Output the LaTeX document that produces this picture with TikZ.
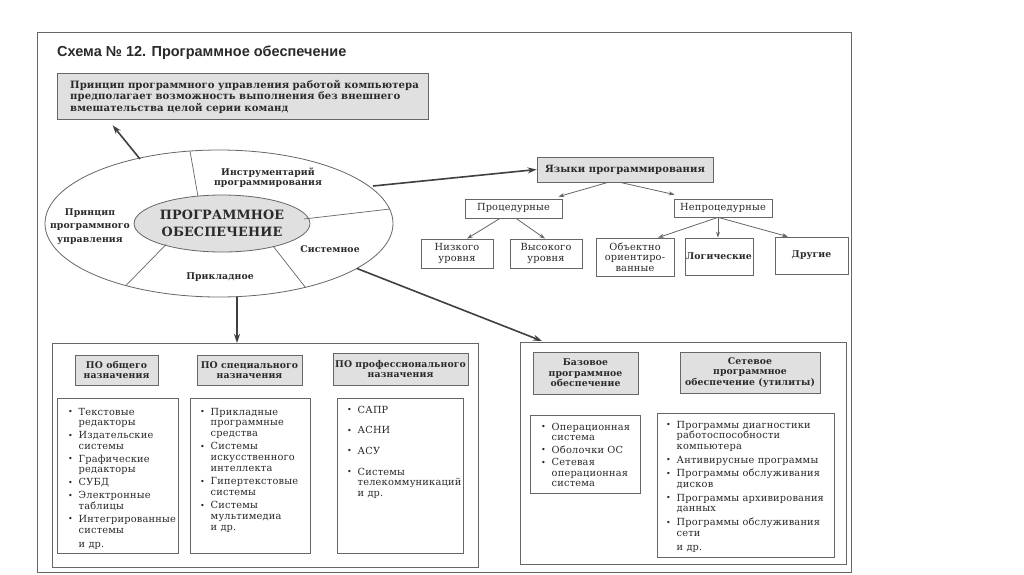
\documentclass[tikz,border=0pt]{standalone}
\usepackage{fontspec}
\setmainfont{DejaVu Serif}[LetterSpace=2]
\newfontfamily\bfam{DejaVu Serif}[LetterSpace=1]
\newfontfamily\titlefont{Liberation Sans}
\usetikzlibrary{arrows.meta,shapes.geometric,calc}
\definecolor{ink}{HTML}{2A2A2A}
\definecolor{rule}{HTML}{666666}
\definecolor{shade}{HTML}{E0E0E0}
\newcommand\bodyfont{\fontsize{9.8}{10.7}\selectfont}
\newcommand\boldfont{\bfam\bfseries\fontsize{9.3}{10.6}\selectfont}
\newcommand\itm[1]{\hangindent=10.5pt\hangafter=1\noindent\makebox[10.5pt][l]{\raisebox{0.1ex}{\fontsize{8}{8}\selectfont •}}#1\par}
\newcommand\etcline[1]{\noindent\hspace*{10.5pt}#1\par}
\begin{document}
\begin{tikzpicture}[x=1pt,y=-1pt,
  plainbox/.style={draw=rule, line width=0.7pt, inner sep=0pt, align=center, text=ink, font=\bodyfont},
  gbox/.style={plainbox, fill=shade, font=\boldfont},
  lst/.style={anchor=base west, inner sep=0pt, text width=190pt, text=ink, font=\bodyfont},
  bigarrow/.style={draw=black!75, line width=1.6pt, -{Stealth[length=9pt,width=6pt]}},
  smallarrow/.style={draw=black!60, line width=0.8pt, -{Stealth[length=6pt,width=4pt]}},
  lbl/.style={text=ink, font=\boldfont, align=center, inner sep=0pt}
]
\fill[white] (0,0) rectangle (1024,574);
\useasboundingbox (0,0) rectangle (1024,574);
\draw[rule, line width=0.9pt] (37,32) rectangle (851,572);

\node[anchor=base west, inner sep=0pt, text=ink, font=\titlefont\bfseries\fontsize{14.5}{16}\selectfont] (title) at (57,56) {Схема № 12. Программное обеспечение};

% top principle box
\node[gbox, minimum width=371pt, minimum height=46pt] (princ) at (242.5,96) {};
\node[lst, text width=360pt, font=\bfam\bfseries\fontsize{10.1}{11.6}\selectfont] (princtext) at (70,88) {Принцип программного управления работой компьютера\newline предполагает возможность выполнения без внешнего\newline вмешательства целой серии команд};

% ellipse
\node[draw=rule, line width=0.8pt, ellipse, minimum width=348pt, minimum height=147pt, inner sep=0pt] (ell) at (219,223.5) {};
\node[draw=rule, line width=0.8pt, fill=shade, ellipse, minimum width=165pt, minimum height=57pt, inner sep=0pt, align=center, text=ink, font=\bfam\bfseries\fontsize{12.8}{16.5}\selectfont] (core) at (222,223.5) {ПРОГРАММНОЕ\\ОБЕСПЕЧЕНИЕ};
\draw[rule, line width=0.7pt] (190,151) -- (198,196.5);
\draw[rule, line width=0.7pt] (304,219) -- (390,209);
\draw[rule, line width=0.7pt] (273,246) -- (305.5,287.5);
\draw[rule, line width=0.7pt] (166,244.5) -- (126,285.5);
\node[lbl] (instr) at (268,177.5) {Инструментарий\\программирования};
\node[lbl, font=\bfam\bfseries\fontsize{9.3}{13.5}\selectfont] (prin) at (90,226.5) {Принцип\\программного\\управления};
\node[lbl] (sys) at (330,249) {Системное};
\node[lbl] (appl) at (220,277) {Прикладное};

% languages tree
\node[gbox, minimum width=176pt, minimum height=25pt, font=\bfam\bfseries\fontsize{10}{12}\selectfont] (lang) at (625,169.5) {Языки программирования};
\node[plainbox, minimum width=97pt, minimum height=19pt] (proc) at (513.5,208.5) {Процедурные};
\node[plainbox, minimum width=98pt, minimum height=18pt] (nproc) at (723,208) {Непроцедурные};
\node[plainbox, minimum width=72pt, minimum height=29pt] (low) at (457,253.5) {Низкого\\уровня};
\node[plainbox, minimum width=72pt, minimum height=29pt] (high) at (546,253.5) {Высокого\\уровня};
\node[plainbox, minimum width=78pt, minimum height=38pt] (oop) at (635,257) {Объектно\\ориентиро-\\ванные};
\node[plainbox, minimum width=68pt, minimum height=37pt, font=\boldfont] (logic) at (719,256.5) {Логические};
\node[plainbox, minimum width=73pt, minimum height=37pt, font=\boldfont] (other) at (811.5,255.5) {Другие};

\draw[smallarrow] ($(lang.south)+(-17,0)$) -- ($(proc.north east)+(-4,-2)$);
\draw[smallarrow] ($(lang.south)+(-5,0)$) -- ($(nproc.north west)+(1,-4)$);
\draw[smallarrow] ($(proc.south)+(-13.5,0)$) -- ($(low.north)+(10,0)$);
\draw[smallarrow] ($(proc.south)+(2.5,0)$) -- ($(high.north)+(-1,0)$);
\draw[smallarrow] ($(nproc.south)+(-5,0)$) -- ($(oop.north)+(23,0)$);
\draw[smallarrow] ($(nproc.south)+(-5,0)$) -- ($(logic.north)+(-1,0)$);
\draw[smallarrow] ($(nproc.south)+(-5,0)$) -- ($(other.north)+(-23.5,0)$);

% group boxes
\node[plainbox, anchor=north west, minimum width=426pt, minimum height=224pt] (lg) at (52,343) {};
\node[plainbox, anchor=north west, minimum width=326pt, minimum height=222pt] (rg) at (520,342) {};

% big arrows
\draw[bigarrow] ($(ell.center)+(-79,-64.5)$) -- ($(princ.south west)+(56,6)$);
\draw[bigarrow] ($(ell.center)+(154,-37.5)$) -- (lang.west);
\draw[bigarrow] ($(ell.center)+(138,45)$) -- ($(rg.north west)+(22,-1)$);
\draw[bigarrow] ($(ell.center)+(18,73)$) -- ($(lg.north west)+(185,0)$);

% headers
\node[gbox, minimum width=83pt, minimum height=30pt] (h1) at (116.5,370) {ПО общего\\назначения};
\node[gbox, minimum width=105pt, minimum height=30pt] (h2) at (249.5,370) {ПО специального\\назначения};
\node[gbox, minimum width=135pt, minimum height=32pt] (h3) at (400.5,369) {ПО профессионального\\назначения};
\node[gbox, minimum width=105pt, minimum height=42pt] (h4) at (585.5,373) {Базовое\\программное\\обеспечение};
\node[gbox, minimum width=140pt, minimum height=41pt] (h5) at (750,372.5) {Сетевое\\программное\\обеспечение (утилиты)};

% list frames
\node[plainbox, anchor=north west, minimum width=121pt, minimum height=155pt] (l1) at (57,398) {};
\node[plainbox, anchor=north west, minimum width=120pt, minimum height=155pt] (l2) at (190,398) {};
\node[plainbox, anchor=north west, minimum width=126pt, minimum height=155pt] (l3) at (337,398) {};
\node[plainbox, anchor=north west, minimum width=110pt, minimum height=78pt] (l4) at (530,415) {};
\node[plainbox, anchor=north west, minimum width=177pt, minimum height=144pt] (l5) at (657,413) {};

% list texts
\node[lst] (t1) at (68,415) {\setlength\parskip{2.2pt}\itm{Текстовые\newline редакторы}\itm{Издательские\newline системы}\itm{Графические\newline редакторы}\itm{СУБД}\itm{Электронные\newline таблицы}\itm{Интегрированные\newline системы}\vspace{2pt}\etcline{и др.}};
\node[lst] (t2) at (200,415) {\setlength\parskip{2.7pt}\itm{Прикладные\newline программные\newline средства}\itm{Системы\newline искусственного\newline интеллекта}\itm{Гипертекстовые\newline системы}\itm{Системы\newline мультимедиа\newline и др.}};
\node[lst] (t3) at (347,413) {\setlength\parskip{10pt}\itm{САПР}\itm{АСНИ}\itm{АСУ}\itm{Системы\newline телекоммуникаций\newline и др.}};
\node[lst] (t4) at (541,430) {\setlength\parskip{1.7pt}\itm{Операционная\newline система}\itm{Оболочки ОС}\itm{Сетевая\newline операционная\newline система}};
\node[lst] (t5) at (666,428) {\setlength\parskip{3pt}\itm{Программы диагностики\newline работоспособности\newline компьютера}\itm{Антивирусные программы}\itm{Программы обслуживания\newline дисков}\itm{Программы архивирования\newline данных}\itm{Программы обслуживания\newline сети}\etcline{и др.}};
\end{tikzpicture}
\end{document}
